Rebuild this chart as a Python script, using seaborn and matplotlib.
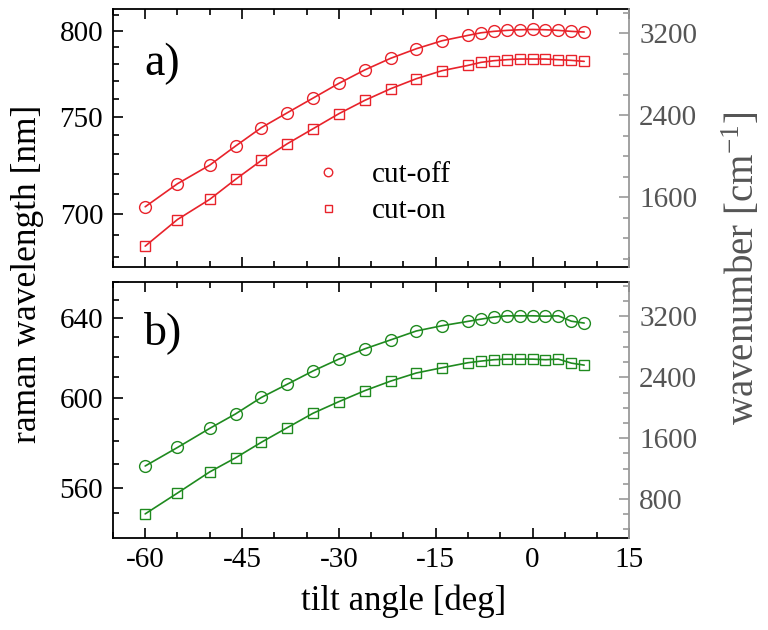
import numpy as np
import matplotlib
matplotlib.use("Agg")
import matplotlib.pyplot as plt
from matplotlib.ticker import MultipleLocator
import seaborn as sns

# ------------------------------------------------------------
# DATA  (tilt angle in deg, filter edge wavelength in nm)
# ------------------------------------------------------------
angle = [-60, -55, -50, -46, -42, -38, -34, -30, -26, -22, -18,
         -14, -10, -8, -6, -4, -2, 0, 2, 4, 6, 8]

a_cutoff = [703.6, 714.9, 724.3, 734.2, 744.0, 752.1, 760.3, 768.7, 776.5, 783.4, 789.2,
            794.1, 797.4, 799.0, 799.9, 800.5, 800.9, 801.1, 800.9, 800.5, 799.9, 799.5]
a_cuton = [685.1, 697.5, 707.2, 717.1, 726.7, 735.4, 743.4, 751.6, 759.0, 765.6, 771.4,
           776.1, 779.2, 781.0, 782.0, 782.6, 783.0, 783.0, 783.0, 782.6, 782.2, 781.6]

b_cutoff = [569.3, 577.3, 585.8, 592.4, 600.1, 606.4, 612.9, 618.8, 624.0, 628.6, 633.3,
            636.1, 638.4, 639.6, 640.7, 641.4, 641.4, 641.4, 641.2, 641.4, 638.5, 637.5]
b_cuton = [549.6, 558.0, 566.8, 572.8, 579.6, 586.1, 592.7, 598.1, 603.3, 607.9, 611.9,
           614.5, 617.0, 617.8, 618.5, 618.8, 618.8, 618.8, 618.5, 618.8, 616.8, 615.8]

# excitation line (cm-1) used for the wavenumber axis of each panel
exc_a = 15720.0
exc_b = 18800.0

# wavenumber range shown on the right axis
wn_lim_a = (923, 3434)
wn_lim_b = (292, 3657)

# ------------------------------------------------------------
# STYLE
# ------------------------------------------------------------
sns.set_style("ticks")
plt.rcParams["font.family"] = ["Liberation Serif", "DejaVu Serif"]
plt.rcParams["axes.unicode_minus"] = False
plt.rcParams["text.color"] = "black"
plt.rcParams["axes.labelcolor"] = "black"
plt.rcParams["axes.edgecolor"] = "black"
plt.rcParams["xtick.color"] = "black"
plt.rcParams["ytick.color"] = "black"

RED = "#e8232b"
GREEN = "#1f8a1f"
GRAY = "#555555"
LGRAY = "#9a9a9a"

fig = plt.figure(figsize=(7.68, 6.30), dpi=100)
ax_a = fig.add_axes([0.147, 0.5767, 0.6725, 0.4086])
ax_b = fig.add_axes([0.147, 0.1465, 0.6725, 0.4063])


def panel(ax, off, on, color, exc, wn_lim, major, tag, tag_y):
    sns.lineplot(x=angle, y=off, ax=ax, color=color, lw=1.2, legend=False)
    sns.lineplot(x=angle, y=on, ax=ax, color=color, lw=1.2, legend=False)
    sns.lineplot(x=angle, y=off, ax=ax, color=color, marker="o", ms=8.5,
                 mfc="none", mec=color, mew=1.0, linestyle="", label="cut-off")
    sns.lineplot(x=angle, y=on, ax=ax, color=color, marker="s", ms=7,
                 mfc="none", mec=color, mew=1.0, linestyle="", label="cut-on")

    # left axis: wavelength, spaced linearly in wavenumber
    def fwd(lam):
        with np.errstate(divide="ignore", invalid="ignore"):
            return exc - 1e7 / np.asarray(lam, float)

    def inv(w):
        with np.errstate(divide="ignore", invalid="ignore"):
            return 1e7 / (exc - np.asarray(w, float))

    ax.set_yscale("function", functions=(fwd, inv))
    ax.set_ylim(float(inv(wn_lim[0])), float(inv(wn_lim[1])))
    ax.set_xlim(-65, 15)

    ax.xaxis.set_major_locator(MultipleLocator(15))
    ax.xaxis.set_minor_locator(MultipleLocator(5))
    ax.yaxis.set_major_locator(MultipleLocator(major))
    ax.yaxis.set_minor_locator(MultipleLocator(10))

    ax.tick_params(which="both", direction="in", top=True, bottom=True,
                   left=True, right=False, width=1.2, labelsize=21, pad=7,
                   color="black", labelcolor="black")
    ax.tick_params(which="major", length=7)
    ax.tick_params(which="minor", length=4)
    for s in ["left", "bottom", "top"]:
        ax.spines[s].set_linewidth(1.3)
        ax.spines[s].set_color("black")
    ax.spines["right"].set_visible(False)
    ax.set_xlabel("")
    ax.set_ylabel("")

    # right axis: wavenumber
    axr = ax.twinx()
    axr.set_ylim(*wn_lim)
    axr.yaxis.set_major_locator(MultipleLocator(800))
    axr.yaxis.set_minor_locator(MultipleLocator(200))
    axr.tick_params(which="both", direction="in", width=1.2, color=LGRAY,
                    labelcolor=GRAY, labelsize=21, pad=7)
    axr.tick_params(which="major", length=7)
    axr.tick_params(which="minor", length=4)
    for s in ["left", "bottom", "top"]:
        axr.spines[s].set_visible(False)
    axr.spines["right"].set_color(LGRAY)
    axr.spines["right"].set_linewidth(1.3)

    ax.text(0.06, tag_y, tag, transform=ax.transAxes, fontsize=33,
            va="center", ha="left")
    return axr


panel(ax_a, a_cutoff, a_cuton, RED, exc_a, wn_lim_a, 50, "a)", 0.79)
panel(ax_b, b_cutoff, b_cuton, GREEN, exc_b, wn_lim_b, 40, "b)", 0.80)

ax_a.tick_params(labelbottom=False)
if ax_b.get_legend() is not None:
    ax_b.get_legend().remove()

ax_a.legend(loc="upper left", bbox_to_anchor=(0.388, 0.408), frameon=False,
            fontsize=21, handlelength=1.0, handletextpad=1.0, labelspacing=0.34,
            borderpad=0, borderaxespad=0, markerscale=0.72)

fig.text(0.526, 0.045, "tilt angle [deg]", va="center", ha="center", fontsize=25)
fig.text(0.036, 0.566, "raman wavelength [nm]", rotation=90,
         va="center", ha="center", fontsize=25.5)
fig.text(0.966, 0.574, r"wavenumber [cm$^{\mathregular{-1}}$]", rotation=90,
         va="center", ha="center", fontsize=28, color=GRAY)

fig.savefig("out.png", dpi=100)
